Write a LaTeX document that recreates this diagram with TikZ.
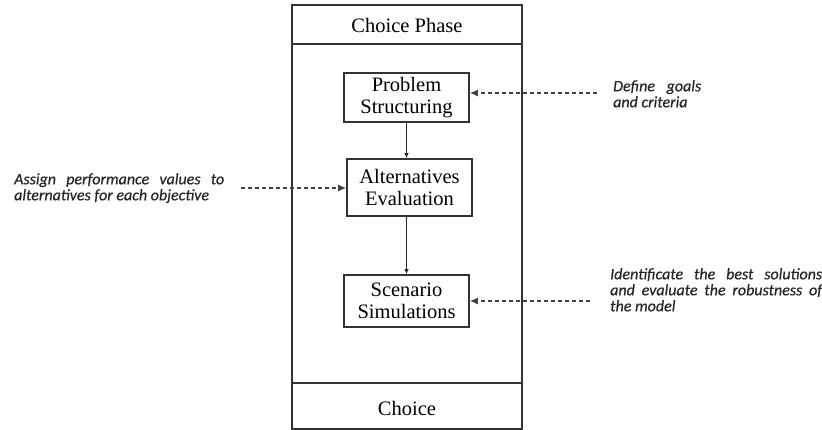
\documentclass[tikz,border=0pt]{standalone}
\usepackage{fontspec}
\setmainfont{Liberation Serif}
\newfontfamily\notefont[FakeBold=0.5]{Carlito}
\usetikzlibrary{arrows.meta}
\begin{document}
\begin{tikzpicture}[x=1pt,y=-1pt,
  frame/.style={draw=black!80,line width=1.6pt},
  stagebox/.style={draw=black!80,line width=1.6pt,fill=white,inner sep=0pt,
    minimum width=125pt,align=center,font=\fontsize{20.5}{22}\selectfont},
  title/.style={inner sep=0pt,font=\fontsize{20.5}{22}\selectfont},
  flow/.style={draw=black!85,line width=1.1pt,-{Latex[length=5pt,width=4.5pt]}},
  input/.style={draw=black!75,line width=1.4pt,dash pattern=on 4pt off 3pt,
    -{Latex[length=8pt,width=7pt]}},
  note/.style={inner sep=0pt,anchor=north west,align=justify,text=black!85,
    font=\notefont\itshape\fontsize{16}{16}\selectfont,
    execute at begin node={\hyphenpenalty=10000\relax}}]
\useasboundingbox (0,0) rectangle (822,430);
% outer frame of the phase
\draw[frame] (292,5) rectangle (522,429);
\draw[frame] (292,44) -- (522,44);
\draw[frame] (292,383) -- (522,383);
\node[title] (head) at (407,25) {Choice Phase};
\node[title] (foot) at (407,408) {Choice};
% stages
\node[stagebox,minimum height=49pt] (ps) at (406.5,97.5) {Problem\\Structuring};
\node[stagebox,minimum height=57pt] (ae) at (409.5,187.5) {Alternatives\\Evaluation};
\node[stagebox,minimum height=52pt] (ss) at (406.5,301) {Scenario\\Simulations};
\draw[flow] (ps.south) -- (ps.south |- ae.north);
\draw[flow] (ae.south -| ps.south) -- (ss.north);
% annotations
\node[note,text width=88pt] (goals) at (613,80) {Define goals and criteria};
\node[note,text width=210pt] (perf) at (14,173) {Assign performance values to alternatives for each objective};
\node[note,text width=212pt] (best) at (610,268) {Identificate the best solutions and evaluate the robustness of the model};
\coordinate (g0) at (597,93);
\coordinate (p0) at (241,188);
\coordinate (b0) at (590,301);
\draw[input] (g0) -- (g0 -| ps.east);
\draw[input] (p0) -- (p0 -| ae.west);
\draw[input] (b0) -- (b0 -| ss.east);
\end{tikzpicture}
\end{document}
